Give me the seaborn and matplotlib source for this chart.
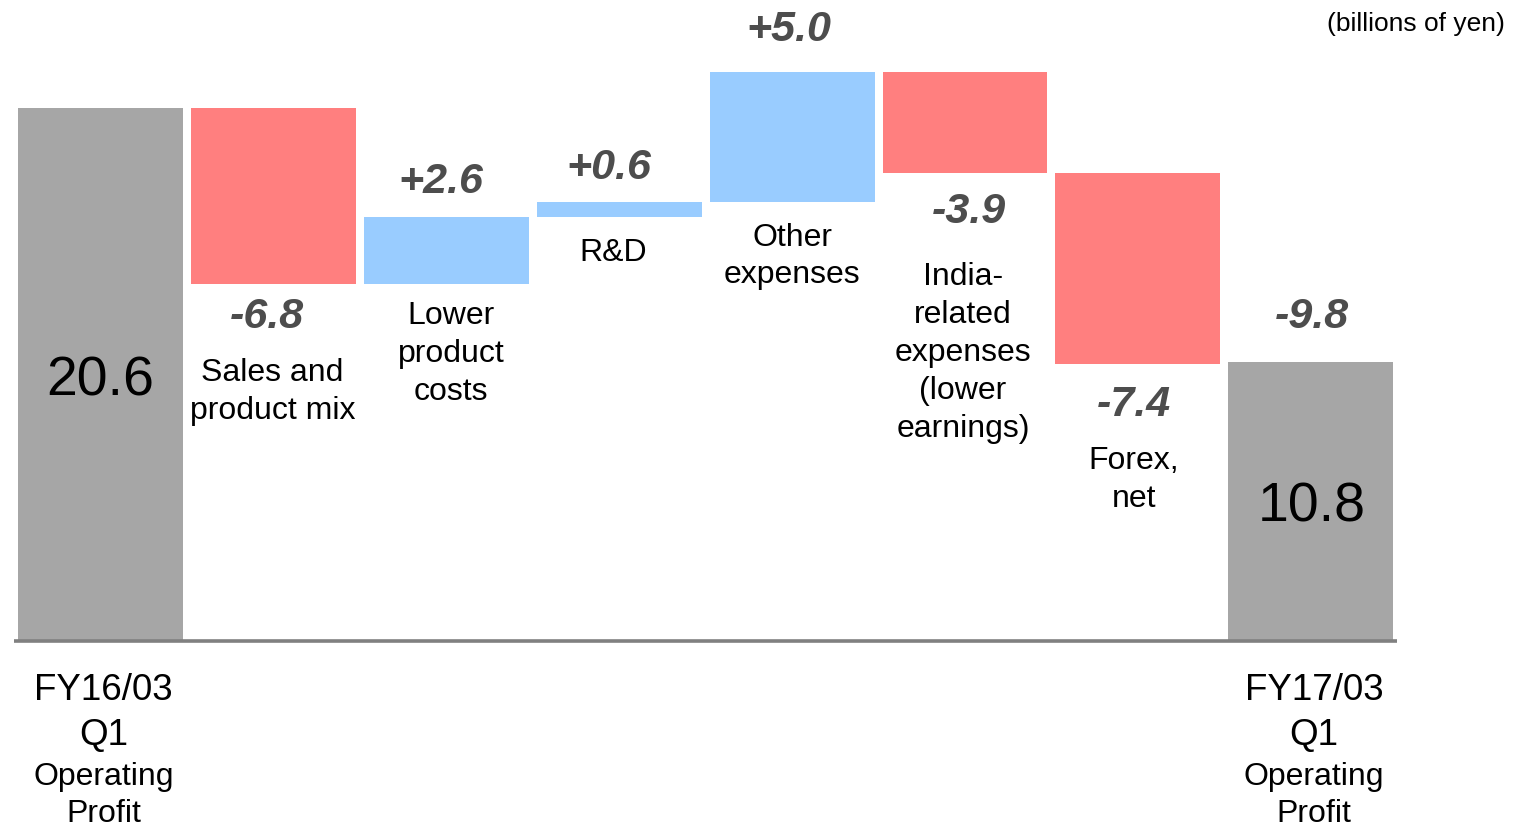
import numpy as np
import matplotlib
matplotlib.use("Agg")
import matplotlib.pyplot as plt
import seaborn as sns

# values (billions of yen)
start_value = 20.6
end_value = 10.8
total_change = "-9.8"
step_names = ["Sales and\nproduct mix", "Lower\nproduct\ncosts", "R&D",
              "Other\nexpenses", "India-\nrelated\nexpenses\n(lower\nearnings)",
              "Forex,\nnet"]
step_changes = [-6.8, 2.6, 0.6, 5.0, -3.9, -7.4]
start_label = ["FY16/03", "Q1", "Operating", "Profit"]
end_label = ["FY17/03", "Q1", "Operating", "Profit"]
unit_note = "(billions of yen)"

# layout (pixel offsets from bar edges / centres)
value_off = [33, 35, 34, 42, 39, 41]
value_dx = [-6, -5, -10, -3, 4, -4]
name_off = [108, 70, 36, 55, 180, 116]
name_dx = [-1, 5, -6, 0, -2, -4]

sns.set_theme(style="white")
plt.rcParams["font.family"] = ["Liberation Sans", "DejaVu Sans"]
plt.rcParams["text.color"] = "black"

GREY = "#A6A6A6"
RED = "#FF7F7F"
BLUE = "#99CCFF"
VAL = "#4D4D4D"

fig = plt.figure(figsize=(15.14, 8.26), dpi=100)
ax = fig.add_axes([0, 0, 1, 1])
ax.set_xlim(-0.581, 8.175)
ax.set_ylim(-185 / 25.85, 641 / 25.85)
ax.axis("off")

w = 0.954
n = len(step_changes)
ax.bar(0, start_value, width=w, color=GREY, linewidth=0)
level = start_value
tops, bottoms = [], []
for i, d in enumerate(step_changes):
    lo, hi = sorted([level, level + d])
    ax.bar(i + 1, hi - lo, bottom=lo, width=w, color=BLUE if d > 0 else RED, linewidth=0)
    tops.append(hi)
    bottoms.append(lo)
    level += d
ax.bar(n + 1, end_value, width=w, color=GREY, linewidth=0)

ax.plot([-0.5, n + 1.5], [0, 0], color="#808080", lw=2.6, solid_capstyle="butt", zorder=5)

vfont = dict(fontsize=31, fontweight="bold", fontstyle="italic", color=VAL,
             ha="center", va="center")
nfont = dict(fontsize=23, color="black", ha="center", va="center", linespacing=1.34)

for i, d in enumerate(step_changes):
    x = i + 1
    txt = f"{d:+.1f}"
    if d > 0:
        ax.annotate(txt, (x, tops[i]), xytext=(value_dx[i], value_off[i]),
                    textcoords="offset pixels", **vfont)
    else:
        ax.annotate(txt, (x, bottoms[i]), xytext=(value_dx[i], -value_off[i]),
                    textcoords="offset pixels", **vfont)
    ax.annotate(step_names[i], (x, bottoms[i]), xytext=(name_dx[i], -name_off[i]),
                textcoords="offset pixels", **nfont)

ax.annotate(total_change, (n + 1, end_value), xytext=(1, 45),
            textcoords="offset pixels", **vfont)

ax.annotate(f"{start_value:.1f}", (0, start_value), xytext=(0, -(381 - 108)),
            textcoords="offset pixels", fontsize=40, ha="center", va="center",
            color="black")
ax.annotate(f"{end_value:.1f}", (n + 1, end_value), xytext=(1, -(508 - 362)),
            textcoords="offset pixels", fontsize=40, ha="center", va="center",
            color="black")

row_off = [50, 95, 136, 173]
row_size = [26.5, 26.5, 23, 23]
for lab, xpos in [(start_label, 0), (end_label, n + 1)]:
    for k, t in enumerate(lab):
        ax.annotate(t, (xpos, 0), xytext=(3, -row_off[k]),
                    textcoords="offset pixels", fontsize=row_size[k],
                    ha="center", va="center", color="black")

fig.text(1505 / 1514, 1 - 24 / 826, unit_note, fontsize=19, ha="right", va="center",
         color="black")

fig.savefig("out.png", dpi=100)
